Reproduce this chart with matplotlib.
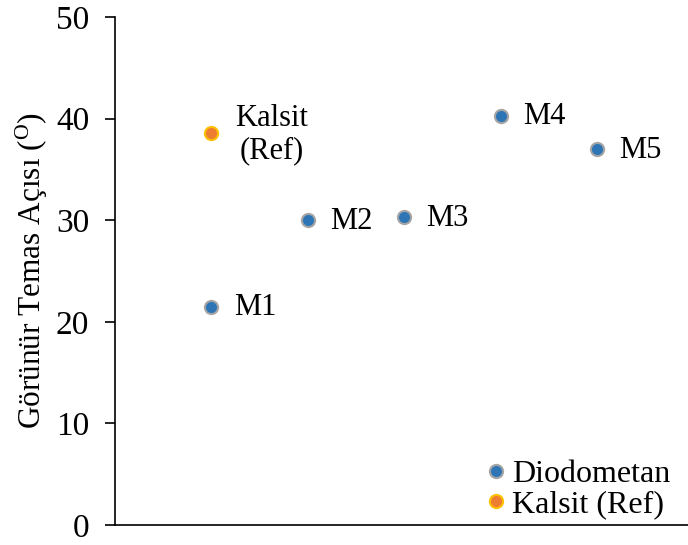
import matplotlib
matplotlib.use("Agg")
import matplotlib.pyplot as plt

plt.rcParams['font.family'] = ['Liberation Serif', 'DejaVu Serif']
plt.rcParams['mathtext.fontset'] = 'custom'
plt.rcParams['mathtext.rm'] = 'Liberation Serif'
plt.rcParams['mathtext.it'] = 'Liberation Serif'

# Diodometan samples
sample_names = ["M1", "M2", "M3", "M4", "M5"]
sample_x = [1, 2, 3, 4, 5]
sample_angles = [21.5, 30.0, 30.3, 40.3, 37.0]

# Calcite reference
ref_name = "Kalsit\n(Ref)"
ref_x = [1]
ref_angles = [38.6]

y_ticks = [0, 10, 20, 30, 40, 50]

FS = 22

fig = plt.figure(figsize=(6.88, 5.45), dpi=100)
ax = fig.add_axes([115/688, 1 - 525/545, 1 - 115/688, (525 - 17)/545])

blue, blue_edge = "#2E75B6", "#A5A5A5"
orange, orange_edge = "#ED7D31", "#FFC000"

ax.plot(sample_x, sample_angles, linestyle="none", marker="o", markersize=9.5,
        markerfacecolor=blue, markeredgecolor=blue_edge, markeredgewidth=1.5,
        label="Diodometan")
ax.plot(ref_x, ref_angles, linestyle="none", marker="o", markersize=9.5,
        markerfacecolor=orange, markeredgecolor=orange_edge, markeredgewidth=1.5,
        label="Kalsit (Ref)")

for name, x, y in zip(sample_names, sample_x, sample_angles):
    ax.annotate(name, (x, y), xytext=(16, -1), textcoords="offset points",
                ha="left", va="center", fontsize=FS)
ax.annotate(ref_name, (ref_x[0], ref_angles[0]), xytext=(17, -1),
            textcoords="offset points", ha="left", va="center", fontsize=FS,
            multialignment="center", linespacing=1.15)

ax.set_xlim(0, 5.94)
ax.set_ylim(0, 50)
ax.set_yticks(y_ticks)
ax.set_xticks([])
ax.tick_params(axis="y", labelsize=24, direction="out", length=7.5, width=1.2, pad=11)
ax.spines["top"].set_visible(False)
ax.spines["right"].set_visible(False)
for s in ("left", "bottom"):
    ax.spines[s].set_linewidth(1.2)

ax.set_ylabel(r"Görünür Temas Açısı ($^{\mathrm{O}}$)", fontsize=22.5, labelpad=4)

ax.legend(loc="lower right", bbox_to_anchor=(0.9756, 0.004), frameon=False,
          fontsize=23, handlelength=0.6, handletextpad=0.2, borderpad=0.0,
          labelspacing=0.03, borderaxespad=0.12)

fig.savefig("out.png", dpi=100)
